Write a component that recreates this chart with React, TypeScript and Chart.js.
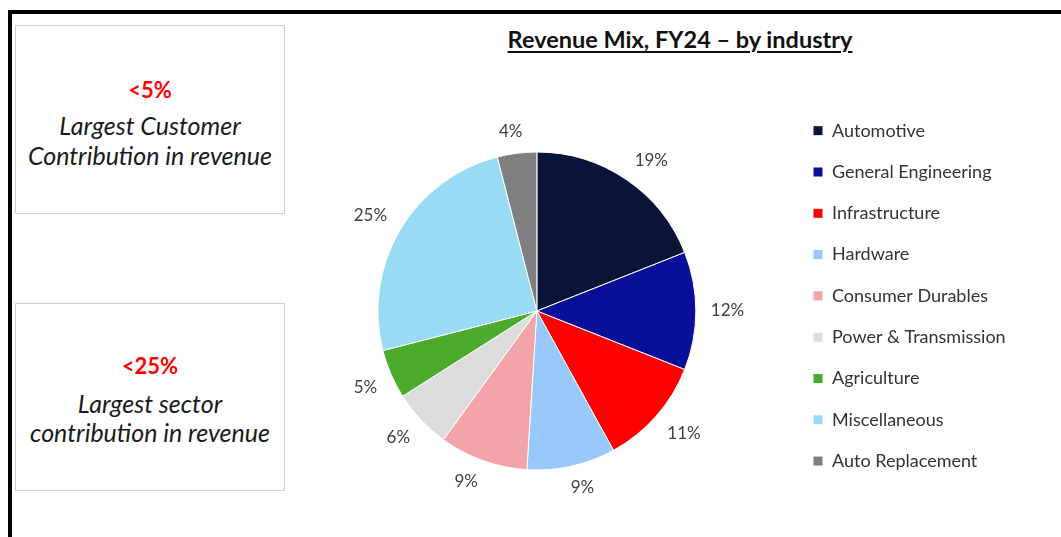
import React, { useEffect, useRef, useState } from "react";
import { Chart, registerables } from "chart.js";

Chart.register(...registerables);

const chartTitle = "Revenue Mix, FY24 – by industry";
const categories = [
  "Automotive",
  "General Engineering",
  "Infrastructure",
  "Hardware",
  "Consumer Durables",
  "Power & Transmission",
  "Agriculture",
  "Miscellaneous",
  "Auto Replacement",
];
const shares = [19, 12, 11, 9, 9, 6, 5, 25, 4];
const sliceColors = [
  "#0A1438",
  "#0A0F9A",
  "#FF0000",
  "#99C8FA",
  "#F2A4A8",
  "#DCDCDC",
  "#4CAA2C",
  "#99DBF5",
  "#7F7F7F",
];
const kpiValues = ["<5%", "<25%"];
const kpiLines = [
  ["Largest Customer", "Contribution in revenue"],
  ["Largest sector", "contribution in revenue"],
];

const FONT = "Lato, 'Open Sans', sans-serif";
const LEGEND_FONT_SIZE = 18;
const LEGEND_PAD = 23.3;
const LEGEND_BOX = 10;
const CHART_AREA_W = 505.7;

const outsideLabels = {
  id: "outsideLabels",
  afterDatasetsDraw(chart: any) {
    const meta = chart.getDatasetMeta(0);
    const ctx = chart.ctx;
    ctx.save();
    ctx.font = `17px ${FONT}`;
    ctx.fillStyle = "#404040";
    ctx.textAlign = "center";
    ctx.textBaseline = "middle";
    const cl = (v: number) => Math.max(-1, Math.min(1, v * 3));
    meta.data.forEach((arc: any, i: number) => {
      const p = arc.getProps(["x", "y", "startAngle", "endAngle", "outerRadius"], true);
      const mid = (p.startAngle + p.endAngle) / 2;
      const r = p.outerRadius + 15;
      const ax = p.x + r * Math.cos(mid);
      const ay = p.y + r * Math.sin(mid);
      const text = `${shares[i]}%`;
      const w = ctx.measureText(text).width;
      const h = 14;
      ctx.fillText(text, ax + (cl(Math.cos(mid)) * w) / 2, ay + (cl(Math.sin(mid)) * h) / 2);
    });
    ctx.restore();
  },
};

function KpiBox({ top, height, value, lines, centers }: any) {
  const lineStyle = (cy: number): React.CSSProperties => ({
    position: "absolute",
    left: 0,
    width: "100%",
    top: cy - top - 16,
    height: 32,
    lineHeight: "32px",
    textAlign: "center",
    whiteSpace: "nowrap",
  });
  return (
    <div
      style={{
        position: "absolute",
        left: 15,
        top,
        width: 270,
        height,
        border: "1px solid #cfcfcf",
        boxSizing: "border-box",
        fontFamily: FONT,
      }}
    >
      <div style={{ ...lineStyle(centers[0]), color: "#FF0000", fontWeight: 700, fontSize: 22 }}>{value}</div>
      <div style={{ ...lineStyle(centers[1]), color: "#1a1a1a", fontStyle: "italic", fontSize: 25 }}>{lines[0]}</div>
      <div style={{ ...lineStyle(centers[2]), color: "#1a1a1a", fontStyle: "italic", fontSize: 25 }}>{lines[1]}</div>
    </div>
  );
}

function legendWidth(): number {
  const c = document.createElement("canvas");
  const ctx = c.getContext("2d")!;
  ctx.font = `${LEGEND_FONT_SIZE}px ${FONT}`;
  let maxW = 0;
  categories.forEach((t) => (maxW = Math.max(maxW, ctx.measureText(t).width)));
  return LEGEND_PAD + LEGEND_BOX + LEGEND_FONT_SIZE / 2 + maxW + 10;
}

export default function App() {
  const canvasRef = useRef<HTMLCanvasElement | null>(null);
  const [canvasW] = useState(() => Math.ceil(CHART_AREA_W + legendWidth()) + 1);

  useEffect(() => {
    if (!canvasRef.current) return;
    const lw = legendWidth();
    const chart = new Chart(canvasRef.current, {
      type: "pie",
      data: {
        labels: categories,
        datasets: [
          {
            data: shares,
            backgroundColor: sliceColors,
            borderColor: "#ffffff",
            borderWidth: 1,
            radius: 159,
          } as any,
        ],
      },
      options: {
        responsive: false,
        maintainAspectRatio: false,
        animation: false,
        layout: {
          padding: { top: 84.4, bottom: 13.4, left: 0, right: canvasW - CHART_AREA_W - lw },
        },
        plugins: {
          legend: {
            position: "right",
            align: "start",
            fullSize: false,
            labels: {
              boxWidth: LEGEND_BOX,
              boxHeight: LEGEND_BOX,
              padding: LEGEND_PAD,
              color: "#333333",
              font: { family: FONT, size: LEGEND_FONT_SIZE },
            },
          } as any,
          title: { display: false },
          tooltip: { enabled: false },
        },
      },
      plugins: [outsideLabels],
    });
    return () => chart.destroy();
  }, [canvasW]);

  return (
    <div
      style={{
        position: "absolute",
        left: 0,
        top: 0,
        width: 1061,
        height: 537,
        overflow: "hidden",
        background: "#ffffff",
      }}
    >
      <div
        style={{
          position: "absolute",
          left: 8,
          top: 10,
          width: 1100,
          height: 600,
          border: "4px solid #000",
          boxSizing: "border-box",
        }}
      />
      <KpiBox top={25} height={189} value={kpiValues[0]} lines={kpiLines[0]} centers={[89, 124, 154]} />
      <KpiBox top={303} height={188} value={kpiValues[1]} lines={kpiLines[1]} centers={[365, 402, 431]} />
      <div
        style={{
          position: "absolute",
          left: 430,
          width: 500,
          top: 23,
          height: 32,
          lineHeight: "32px",
          textAlign: "center",
          fontFamily: FONT,
          fontWeight: 700,
          fontSize: 23.5,
          color: "#111",
          textDecoration: "underline",
          textDecorationThickness: "2px",
          textUnderlineOffset: "3px",
          whiteSpace: "nowrap",
        }}
      >
        {chartTitle}
      </div>
      <canvas
        ref={canvasRef}
        width={canvasW}
        height={523}
        style={{ position: "absolute", left: 284, top: 14, width: canvasW, height: 523 }}
      />
    </div>
  );
}
